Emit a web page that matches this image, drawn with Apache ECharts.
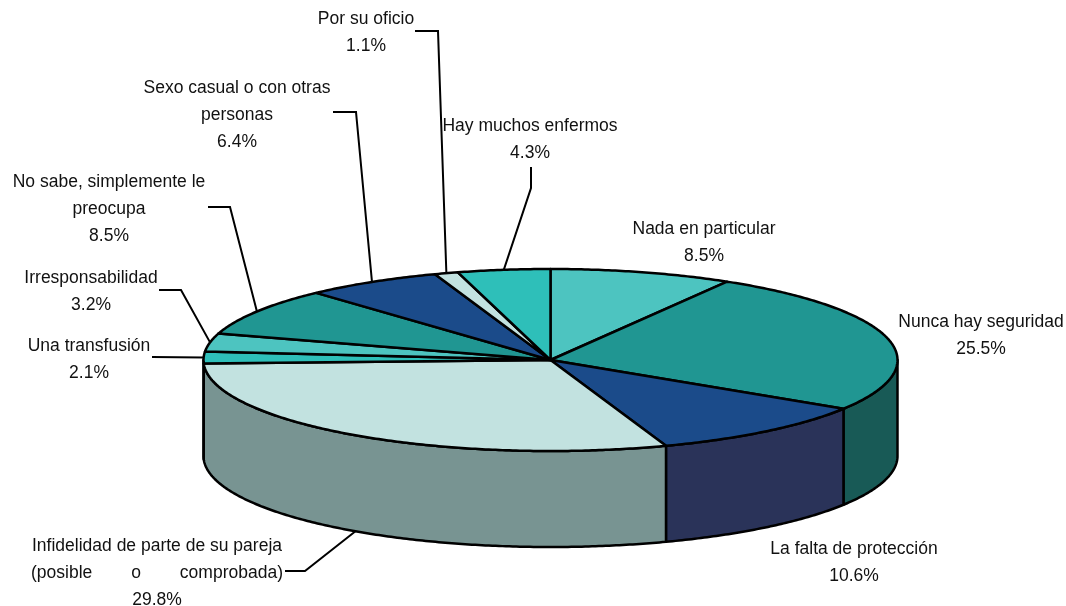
<!DOCTYPE html>
<html>
<head>
<meta charset="utf-8">
<style>html,body{margin:0;padding:0;background:#fff}#c{width:1066px;height:606px}</style>
<script src="https://cdn.jsdelivr.net/npm/echarts@6/dist/echarts.min.js"></script>
</head>
<body>
<div id="c"></div>
<script>
// Data
const categories = [
  ['Nada en particular'],
  ['Nunca hay seguridad'],
  ['La falta de protección'],
  ['Infidelidad de parte de su pareja', '(posible' + ' '.repeat(8) + 'o' + ' '.repeat(8) + 'comprobada)'],
  ['Una transfusión'],
  ['Irresponsabilidad'],
  ['No sabe, simplemente le', 'preocupa'],
  ['Sexo casual o con otras', 'personas'],
  ['Por su oficio'],
  ['Hay muchos enfermos']
];
const values = [8.5, 25.5, 10.6, 29.8, 2.1, 3.2, 8.5, 6.4, 1.1, 4.3];

// Styles
const topColors  = ['#4DC4C0','#209692','#1B4B8A','#C2E2E0','#2EBFB9','#4DC4C0','#209692','#1B4B8A','#C2E2E0','#2EBFB9'];
const sideColors = ['#276260','#185A56','#2A3359','#789492','#176060','#276260','#185A56','#2A3359','#789492','#176060'];

// Layout: label centre x and first-line centre y
const labelCentres = [[704,229],[981,322],[854,549],[157,546],[89,346],[91,278],[109,182],[237,88],[366,19],[530,126]];
// Leader line: points before the anchor on the pie rim (null = no leader)
const leaderElbows = [
  null, null, null,
  [[285,571],[305,571]],
  [[152,357]],
  [[159,290],[181,290]],
  [[208,207],[230,207]],
  [[333,112],[356,112]],
  [[415,31],[438,31]],
  [[531,167],[531,188]]
];
const pie = {cx:550.5, cy:360, rx:347, ry:91, depth:96};
const font = '17.5px "Liberation Sans", Arial, sans-serif';
const lineGap = 27;

const total = values.reduce((a,b)=>a+b,0);
const starts = []; let acc = 0;
values.forEach(v=>{starts.push(acc/total*Math.PI*2); acc+=v;});
const ends = values.map((v,i)=>starts[i]+v/total*Math.PI*2);
const pt = (a,dy)=>[pie.cx+pie.rx*Math.sin(a), pie.cy-pie.ry*Math.cos(a)+(dy||0)];
function arc(a0,a1,dy){
  const n=Math.max(2,Math.ceil((a1-a0)/0.01)), out=[];
  for(let k=0;k<=n;k++) out.push(pt(a0+(a1-a0)*k/n,dy));
  return out;
}
const stroke = {stroke:'#000',lineWidth:2.5,lineJoin:'round'};
const data = values.map((v,i)=>[i,v]);

function renderSide(p){
  const i=p.dataIndex;
  const a0=Math.max(starts[i],Math.PI/2), a1=Math.min(ends[i],Math.PI*1.5);
  if(a1<=a0) return {type:'group',children:[]};
  const pts=arc(a0,a1,0).concat(arc(a0,a1,pie.depth).reverse());
  return {type:'polygon',shape:{points:pts},style:Object.assign({fill:sideColors[i]},stroke)};
}
function renderTop(p){
  const i=p.dataIndex;
  const pts=[[pie.cx,pie.cy]].concat(arc(starts[i],ends[i],0));
  return {type:'polygon',shape:{points:pts},style:Object.assign({fill:topColors[i]},stroke)};
}
function renderLabel(p){
  const i=p.dataIndex, children=[];
  const [x,y]=labelCentres[i];
  const lines=categories[i].concat([values[i].toFixed(1)+'%']);
  lines.forEach((t,k)=>children.push({type:'text',style:{
    text:t,x:x,y:y+k*lineGap,align:'center',verticalAlign:'middle',font:font,fill:'#111'}}));
  if(leaderElbows[i]){
    const mid=(starts[i]+ends[i])/2;
    const onFront=mid>Math.PI/2&&mid<Math.PI*1.5&&i===3;
    children.push({type:'polyline',shape:{points:leaderElbows[i].concat([pt(mid,onFront?pie.depth:0)])},
      style:{fill:'none',stroke:'#000',lineWidth:2}});
  }
  return {type:'group',children:children};
}
const base={type:'custom',coordinateSystem:'none',silent:true,animation:false,data:data};
const chart=echarts.init(document.getElementById('c'),null,{renderer:'canvas'});
chart.setOption({
  animation:false,
  series:[
    Object.assign({},base,{z:1,renderItem:renderSide}),
    Object.assign({},base,{z:2,renderItem:renderTop}),
    Object.assign({},base,{z:3,renderItem:renderLabel})
  ]
});
</script>
</body>
</html>
